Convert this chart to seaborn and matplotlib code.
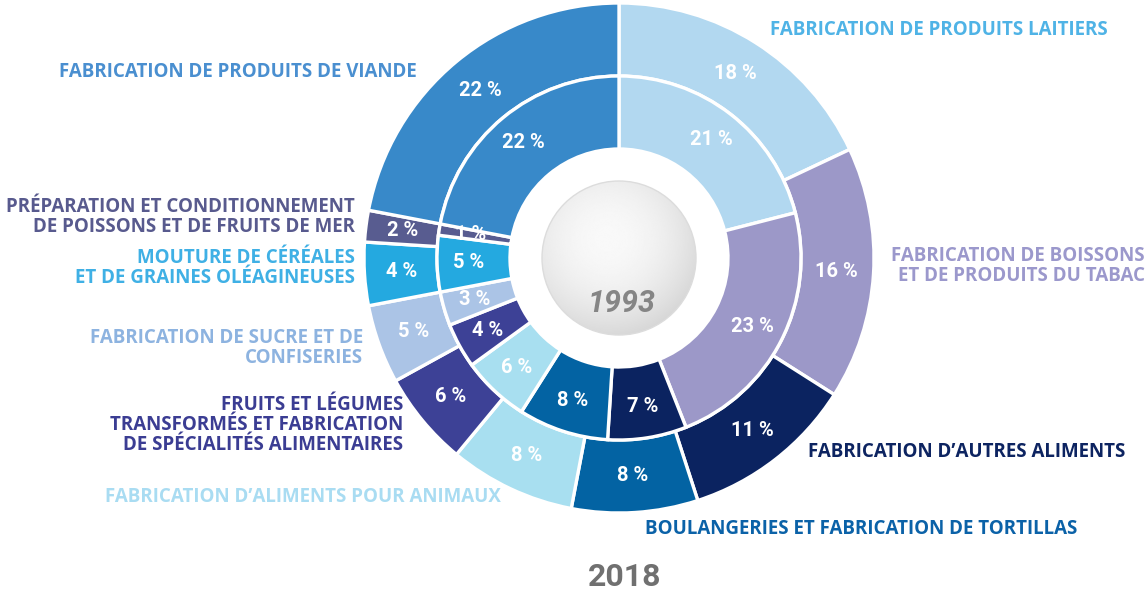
import numpy as np
import matplotlib
matplotlib.use("Agg")
import matplotlib.pyplot as plt
import seaborn as sns
from matplotlib.patches import Circle

# categories clockwise from 12 o'clock
categories = [
    "FABRICATION DE PRODUITS LAITIERS",
    "FABRICATION DE BOISSONS\nET DE PRODUITS DU TABAC",
    "FABRICATION D\u2019AUTRES ALIMENTS",
    "BOULANGERIES ET FABRICATION DE TORTILLAS",
    "FABRICATION D\u2019ALIMENTS POUR ANIMAUX",
    "FRUITS ET L\u00c9GUMES\nTRANSFORM\u00c9S ET FABRICATION\nDE SP\u00c9CIALIT\u00c9S ALIMENTAIRES",
    "FABRICATION DE SUCRE ET DE\nCONFISERIES",
    "MOUTURE DE C\u00c9R\u00c9ALES\nET DE GRAINES OL\u00c9AGINEUSES",
    "PR\u00c9PARATION ET CONDITIONNEMENT\nDE POISSONS ET DE FRUITS DE MER",
    "FABRICATION DE PRODUITS DE VIANDE",
]
share_2018 = [18, 16, 11, 8, 8, 6, 5, 4, 2, 22]
share_1993 = [21, 23, 7, 8, 6, 4, 3, 5, 1, 22]

wedge_colors = ["#b2d8f0", "#9c98c8", "#0b2360", "#0363a3", "#a8dff0",
                "#3d4196", "#abc4e6", "#24a9e0", "#585c90", "#3889c9"]
text_colors = ["#4fb3e6", "#9b98cc", "#0d2461", "#0b62a8", "#a9dcf2",
               "#3b3d93", "#8db3e0", "#3fb0e5", "#585a8e", "#4a8fd0"]

# label anchors (pixel coords, y down) and alignment
label_pos = [
    (770, 30, "left"),
    (1145, 266, "right"),
    (808, 452, "left"),
    (645, 529, "left"),
    (105, 497, "left"),
    (403, 425, "right"),
    (363, 348, "right"),
    (355, 268, "right"),
    (355, 217, "right"),
    (417, 72, "right"),
]

sns.set_theme(style="white")
palette = sns.color_palette(wedge_colors)

W, H = 1147, 592
fig = plt.figure(figsize=(W / 100, H / 100), dpi=100)
ax = fig.add_axes([0, 0, 1, 1])

cx, cy = 619, H - 258
r_out, r_in, ring = 255, 182, 73

w_out, _ = ax.pie(share_2018, colors=palette, startangle=90, counterclock=False,
                  center=(cx, cy), radius=r_out, frame=True,
                  wedgeprops=dict(width=ring, edgecolor="white", linewidth=2.4))
w_in, _ = ax.pie(share_1993, colors=palette, startangle=90, counterclock=False,
                 center=(cx, cy), radius=r_in, frame=True,
                 wedgeprops=dict(width=ring, edgecolor="white", linewidth=2.4))
ax.set_xlim(0, W)
ax.set_ylim(0, H)
ax.set_aspect("equal")
ax.axis("off")

pct_font = dict(family="Roboto", weight="bold", size=14.5, color="white",
                ha="center", va="center")
for wedges, vals, rr in [(w_out, share_2018, 218), (w_in, share_1993, 150)]:
    for w, v in zip(wedges, vals):
        th = np.deg2rad((w.theta1 + w.theta2) / 2)
        ax.text(cx + rr * np.cos(th), cy + rr * np.sin(th), f"{v} %", **pct_font)

# central ball with soft gradient
ball_r = 77
n = 200
yy, xx = np.mgrid[-1:1:n * 1j, -1:1:n * 1j]
d = np.sqrt((xx + 0.15) ** 2 + (yy - 0.25) ** 2)
shade = 0.975 - 0.08 * np.clip(d, 0, 1.4) ** 2
im = ax.imshow(shade, cmap="gray", vmin=0, vmax=1, origin="lower",
               extent=(cx - ball_r, cx + ball_r, cy - ball_r, cy + ball_r), zorder=3)
clip = Circle((cx, cy), ball_r, transform=ax.transData)
im.set_clip_path(clip)
ax.add_patch(Circle((cx, cy), ball_r, fill=False, edgecolor="#dcdcdc", lw=1, zorder=4))
ax.text(cx + 3, H - 304, "1993", family="Roboto", weight="bold", style="italic",
        size=22, color="#858585", ha="center", va="center", zorder=5)
ax.text(cx + 6, H - 577, "2018", family="Roboto", weight="bold",
        size=23, color="#707070", ha="center", va="center")

for name, (x, y, ha), col in zip(categories, label_pos, text_colors):
    ax.text(x, H - y, name, family="Open Sans", weight="bold", size=13.5,
            color=col, ha=ha, va="center", multialignment=ha, linespacing=1.02)

fig.savefig("out.png", dpi=100)
